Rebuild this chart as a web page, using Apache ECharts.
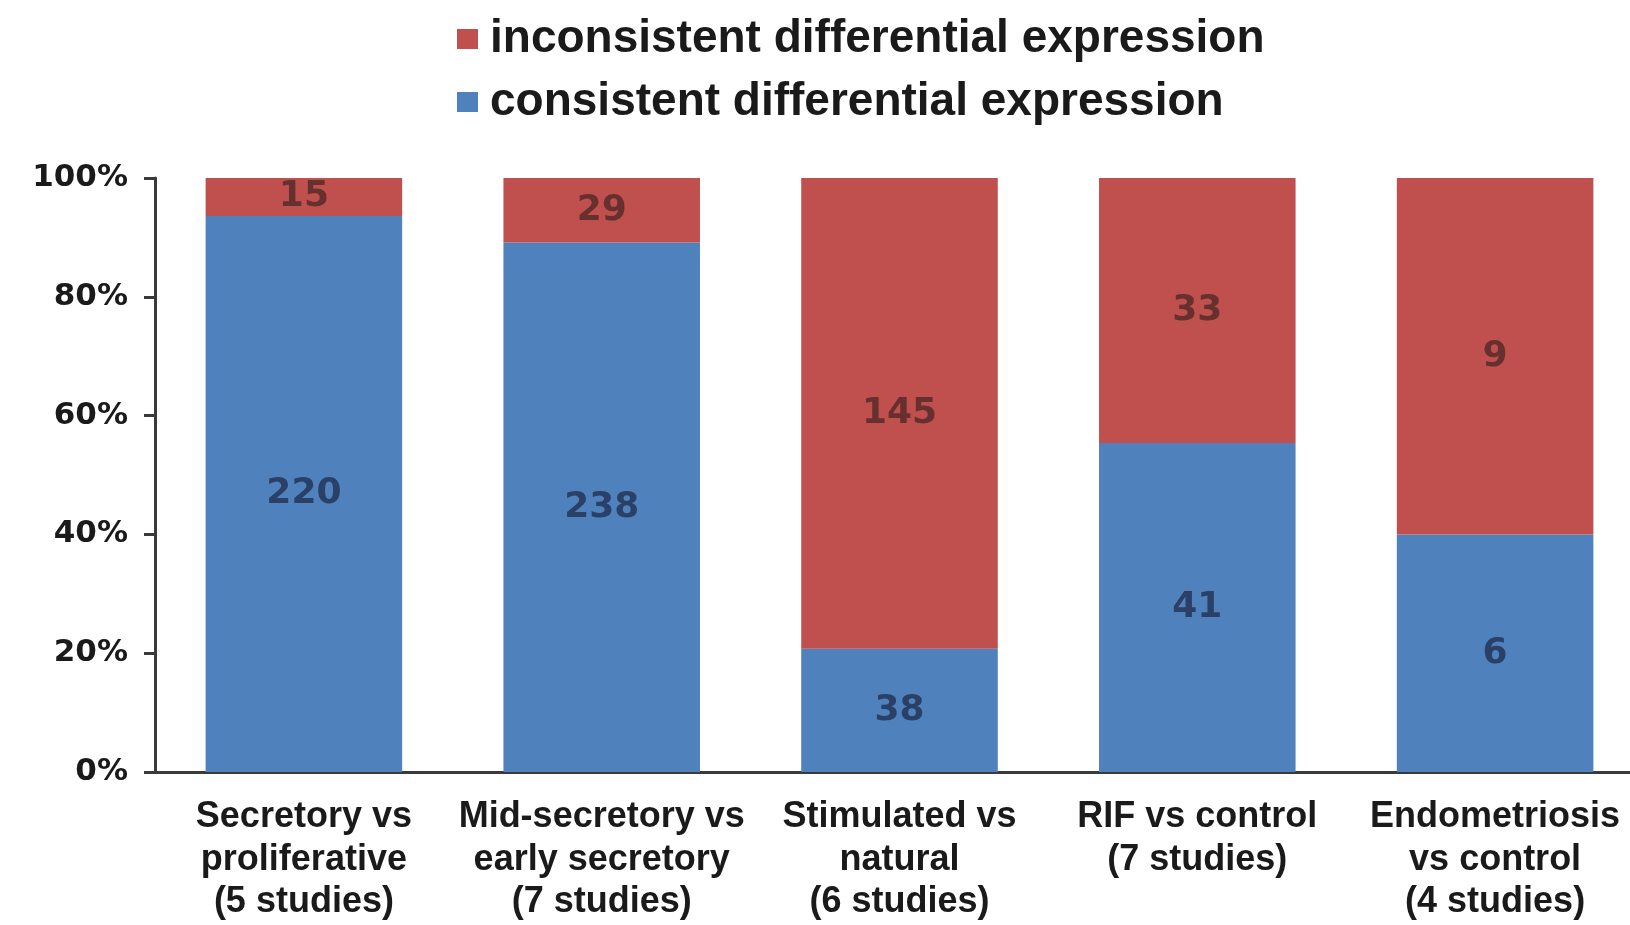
<!DOCTYPE html>
<html>
<head>
<meta charset="utf-8">
<script src="https://cdn.jsdelivr.net/npm/echarts@6/dist/echarts.min.js"></script>
<style>html,body{margin:0;padding:0;background:#fff}#c{width:1630px;height:925px}</style>
</head>
<body>
<div id="c"></div>
<script>
const categories = [
  'Secretory vs\nproliferative\n(5 studies)',
  'Mid-secretory vs\nearly secretory\n(7 studies)',
  'Stimulated vs\nnatural\n(6 studies)',
  'RIF vs control\n(7 studies)',
  'Endometriosis\nvs control\n(4 studies)'
];
const consistent = [220, 238, 38, 41, 6];
const inconsistent = [15, 29, 145, 33, 9];
const yTicks = [0, 20, 40, 60, 80, 100];

const pct = (arr, i) => arr[i] / (consistent[i] + inconsistent[i]) * 100;
const consistentPct = consistent.map((v, i) => pct(consistent, i));
const inconsistentPct = inconsistent.map((v, i) => pct(inconsistent, i));

const chart = echarts.init(document.getElementById('c'));
chart.setOption({
  backgroundColor: '#fff',
  animation: false,
  legend: {
    orient: 'vertical',
    left: 452,
    top: 11,
    itemGap: 17,
    itemWidth: 21,
    itemHeight: 20,
    icon: 'rect',
    data: ['inconsistent differential expression', 'consistent differential expression'],
    textStyle: { fontFamily: 'Liberation Sans', fontWeight: 'bold', fontSize: 46, color: '#1a1a1a', padding: [0, 0, 0, 7] }
  },
  grid: { left: 155, top: 178, height: 594, width: 1489, containLabel: false, outerBoundsMode: 'none' },
  xAxis: {
    type: 'category',
    data: categories,
    axisLine: { lineStyle: { color: '#3a3a3a', width: 3 } },
    axisTick: { show: false },
    axisLabel: {
      margin: 24,
      interval: 0,
      fontFamily: 'Liberation Sans',
      fontWeight: 'bold',
      fontSize: 36,
      lineHeight: 42.5,
      color: '#1a1a1a'
    }
  },
  yAxis: {
    type: 'value',
    min: 0,
    max: 100,
    interval: 20,
    splitLine: { show: false },
    axisLine: { show: true, lineStyle: { color: '#3a3a3a', width: 3 } },
    axisTick: { show: true, length: 11, lineStyle: { color: '#3a3a3a', width: 3 } },
    axisLabel: {
      margin: 27,
      formatter: v => yTicks.includes(v) ? v + '%' : '',
      fontFamily: 'DejaVu Sans',
      fontWeight: 'bold',
      fontSize: 31,
      color: '#1a1a1a'
    }
  },
  series: [
    {
      name: 'consistent differential expression',
      type: 'bar',
      stack: 'total',
      barWidth: '66%',
      data: consistentPct,
      itemStyle: { color: '#4F81BD' },
      label: {
        show: true,
        position: 'inside',
        formatter: p => String(consistent[p.dataIndex]),
        fontFamily: 'DejaVu Sans',
        fontWeight: 'bold',
        fontSize: 36,
        color: '#2a4066'
      }
    },
    {
      name: 'inconsistent differential expression',
      type: 'bar',
      stack: 'total',
      barWidth: '66%',
      data: inconsistentPct,
      itemStyle: { color: '#C0504D' },
      label: {
        show: true,
        position: 'inside',
        formatter: p => String(inconsistent[p.dataIndex]),
        fontFamily: 'DejaVu Sans',
        fontWeight: 'bold',
        fontSize: 36,
        color: '#66302e'
      }
    }
  ]
});
</script>
</body>
</html>
